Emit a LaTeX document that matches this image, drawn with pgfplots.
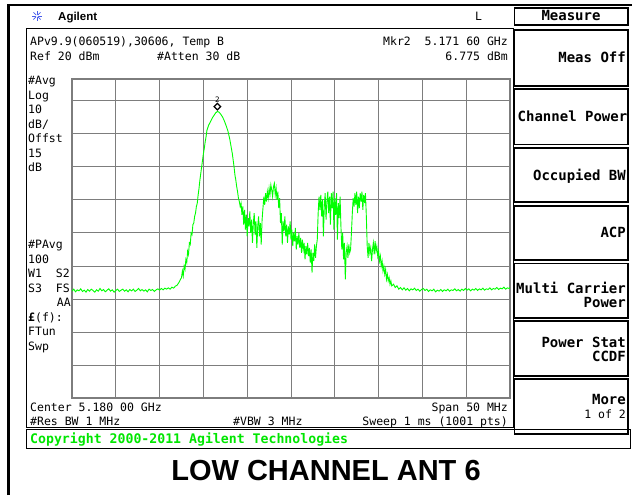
\documentclass[border=0pt]{standalone}
\usepackage{pgfplots}
\pgfplotsset{compat=1.18}
\usepackage{fontspec}
\setmainfont{Liberation Sans}
\newfontfamily\inst{DejaVu Sans Mono}
\definecolor{trace}{RGB}{0,255,0}
\definecolor{gridgray}{RGB}{125,125,125}
\definecolor{agblue}{RGB}{70,90,235}
\definecolor{copygreen}{RGB}{0,230,0}

% trace: MHz from left edge of the 50 MHz span, dBm
\pgfplotstableread{
f p
0.0 -47.6
0.2 -47.0
0.4 -47.8
0.6 -47.2
0.8 -47.5
1.0 -46.9
1.2 -47.7
1.4 -47.3
1.6 -47.9
1.8 -47.1
2.0 -47.6
2.2 -47.0
2.4 -47.4
2.6 -47.9
2.8 -47.2
3.0 -47.6
3.2 -46.8
3.4 -47.5
3.6 -47.1
3.8 -47.8
4.0 -47.3
4.2 -46.9
4.4 -47.6
4.6 -47.2
4.8 -47.9
5.0 -47.4
5.2 -47.0
5.4 -47.7
5.6 -47.3
5.8 -47.0
6.0 -47.6
6.2 -47.2
6.4 -47.8
6.6 -47.1
6.8 -47.5
7.0 -47.0
7.2 -47.7
7.4 -47.3
7.6 -46.8
7.8 -47.5
8.0 -47.1
8.2 -47.6
8.4 -47.2
8.6 -47.8
8.8 -47.0
9.0 -47.4
9.2 -47.1
9.4 -47.7
9.6 -47.2
9.8 -46.9
10.0 -47.3
10.2 -46.8
10.4 -47.2
10.6 -46.7
10.8 -47.0
11.0 -46.6
11.2 -47.0
11.4 -46.4
11.6 -46.7
11.8 -46.1
12.0 -45.8
12.2 -45.0
12.35 -44.2
12.5 -43.5
12.6 -41.5
12.7 -43.0
12.8 -40.0
12.9 -41.0
13.0 -38.0
13.1 -39.0
13.2 -35.5
13.3 -36.5
13.4 -33.0
13.5 -33.5
13.6 -30.0
13.7 -30.5
13.8 -27.5
13.9 -27.0
14.0 -25.0
14.1 -24.0
14.2 -22.0
14.3 -21.0
14.4 -18.5
14.5 -16.5
14.6 -14.0
14.7 -12.0
14.8 -10.0
14.9 -8.0
15.0 -6.0
15.1 -4.5
15.2 -2.5
15.3 -1.0
15.4 1.0
15.6 2.6
15.8 3.6
16.0 4.7
16.2 5.5
16.4 6.3
16.6 6.775
16.8 6.5
17.0 5.8
17.2 5.0
17.4 3.8
17.6 2.4
17.8 0.8
18.0 -1.5
18.1 -3.0
18.2 -4.5
18.3 -6.0
18.4 -8.0
18.5 -10.0
18.6 -12.5
18.7 -14.0
18.8 -16.0
18.9 -17.5
19.0 -19.5
19.1 -20.5
19.2 -22.0
19.3 -21.0
19.4 -24.5
19.5 -22.0
19.6 -27.5
19.7 -23.0
19.8 -29.0
19.9 -24.5
20.0 -31.0
20.1 -25.5
20.2 -28.0
20.3 -23.5
20.4 -30.0
20.5 -26.0
20.6 -33.0
20.7 -27.0
20.8 -24.0
20.9 -30.5
21.0 -26.5
21.1 -34.5
21.2 -28.0
21.3 -25.0
21.4 -31.0
21.5 -27.0
21.6 -33.5
21.7 -26.0
21.8 -22.5
21.9 -19.0
22.0 -21.5
22.1 -18.0
22.2 -20.5
22.3 -17.5
22.4 -19.5
22.5 -16.5
22.6 -18.5
22.7 -15.5
22.8 -17.0
22.9 -19.0
23.0 -16.0
23.1 -15.0
23.2 -18.5
23.3 -16.5
23.4 -20.0
23.5 -17.5
23.6 -22.5
23.7 -19.5
23.8 -27.0
23.9 -24.0
24.0 -33.5
24.1 -26.5
24.2 -29.5
24.3 -25.0
24.4 -31.0
24.5 -27.5
24.6 -33.0
24.7 -28.0
24.8 -30.5
24.9 -26.5
25.0 -32.0
25.1 -29.0
25.2 -34.0
25.3 -30.0
25.4 -32.5
25.5 -28.5
25.6 -35.0
25.7 -31.0
25.8 -33.5
25.9 -30.0
26.0 -34.5
26.1 -31.5
26.2 -36.0
26.3 -32.0
26.4 -35.0
26.5 -33.0
26.6 -38.0
26.7 -34.0
26.8 -36.5
26.9 -33.0
27.0 -37.0
27.1 -34.5
27.2 -39.0
27.3 -35.0
27.4 -42.0
27.5 -36.0
27.6 -38.5
27.7 -33.5
27.8 -37.5
27.9 -34.0
28.0 -32.0
28.1 -24.0
28.2 -19.0
28.3 -23.0
28.4 -18.5
28.5 -25.0
28.6 -20.0
28.7 -31.0
28.8 -22.0
28.9 -18.0
29.0 -26.0
29.1 -20.5
29.2 -17.5
29.3 -24.0
29.4 -19.0
29.5 -27.5
29.6 -18.0
29.7 -22.5
29.8 -17.5
29.9 -29.0
30.0 -19.5
30.1 -24.5
30.2 -18.0
30.3 -32.0
30.4 -21.0
30.5 -25.5
30.6 -19.0
30.7 -28.0
30.8 -35.0
30.9 -30.0
31.0 -38.0
31.1 -33.0
31.2 -44.0
31.3 -36.0
31.4 -34.0
31.5 -37.5
31.6 -33.5
31.7 -36.0
31.8 -35.0
31.9 -30.0
32.0 -24.0
32.1 -19.5
32.2 -22.0
32.3 -18.0
32.4 -21.5
32.5 -17.5
32.6 -24.0
32.7 -19.0
32.8 -22.5
32.9 -18.0
33.0 -20.5
33.1 -17.5
33.2 -23.0
33.3 -18.5
33.4 -21.0
33.5 -18.0
33.6 -25.0
33.7 -34.0
33.8 -37.5
33.9 -33.0
34.0 -36.0
34.1 -34.5
34.2 -38.5
34.3 -35.0
34.4 -33.0
34.5 -36.5
34.6 -32.5
34.7 -35.5
34.8 -34.0
34.9 -37.0
35.0 -35.5
35.1 -38.5
35.2 -37.0
35.3 -40.0
35.4 -38.5
35.5 -41.5
35.6 -40.0
35.7 -42.5
35.8 -41.0
35.9 -44.0
36.0 -42.5
36.1 -44.5
36.2 -43.5
36.3 -45.5
36.4 -44.5
36.5 -46.0
36.7 -45.5
36.9 -46.5
37.1 -46.0
37.3 -47.0
37.5 -46.5
37.7 -47.2
37.9 -46.6
38.1 -47.3
38.3 -46.8
38.5 -47.5
38.7 -46.9
38.9 -47.2
39.1 -46.7
39.3 -47.4
39.5 -47.0
39.7 -47.6
39.9 -47.1
40.1 -46.8
40.3 -47.4
40.5 -47.0
40.7 -47.7
40.9 -47.2
41.1 -47.5
41.3 -47.0
41.5 -47.8
41.7 -47.3
41.9 -47.6
42.1 -47.1
42.3 -47.7
42.5 -47.2
42.7 -47.5
42.9 -47.0
43.1 -47.6
43.3 -47.2
43.5 -47.4
43.7 -46.9
43.9 -47.5
44.1 -47.1
44.3 -47.6
44.5 -47.0
44.7 -47.4
44.9 -46.8
45.1 -47.3
45.3 -46.9
45.5 -47.5
45.7 -47.0
45.9 -47.3
46.1 -46.8
46.3 -47.4
46.5 -46.9
46.7 -47.2
46.9 -46.7
47.1 -47.3
47.3 -46.9
47.5 -47.1
47.7 -46.6
47.9 -47.2
48.1 -46.8
48.3 -47.0
48.5 -46.5
48.7 -47.1
48.9 -46.7
49.1 -46.9
49.3 -46.4
49.5 -47.0
49.7 -46.6
49.9 -46.8
50.0 -46.5
}\tracedata

\begin{document}
\begin{tikzpicture}
\useasboundingbox (0,0) rectangle (639pt,495pt);

\begin{axis}[
    at={(72pt,96.7pt)}, anchor=south west,
    width=438pt, height=319.3pt, scale only axis,
    xmin=0, xmax=50, ymin=-80, ymax=16.55,
    xtick={5,10,...,45}, ytick={-70,-60,...,10},
    xticklabels={}, yticklabels={},
    major tick length=0pt,
    grid=major,
    grid style={gridgray, line width=1pt},
    axis line style={gridgray, line width=1.8pt},
    clip=true,
]
    \addplot[trace, line width=0.9pt] table[x=f, y=p] {\tracedata};
    % marker 2 sits just above the peak
    \addplot[black, mark=square*, mark size=2.3pt,
        mark options={fill=white, line width=1.3pt, rotate=45}, only marks]
        coordinates {(16.6,8.2)} node[above=4pt, inner sep=0pt, font=\inst\fontsize{7.5}{8}\selectfont] {2};
\end{axis}

\begin{scope}[x=1pt, y=-1pt, shift={(0pt,495pt)}]
    % outer frame
    \draw[line width=2.5pt] (8.5,495) -- (8.5,4.8) -- (632,4.8);
    % header
    \foreach \a in {0,45,...,315} \draw[agblue, line width=0.7pt] (37,16) -- ++(\a:5);
    \fill[white] (37,16) circle (1.3);
    \node[anchor=base west, inner sep=0pt, font=\bfseries\fontsize{11.5}{12}\selectfont] at (58,21) {Agilent};
    \node[anchor=base west, inner sep=0pt, font=\inst\fontsize{11.5}{12}\selectfont] at (475,21) {L};

    % screen box and copyright bar
    \draw[line width=1pt] (26,29) rectangle (513,427);
    \draw[line width=1pt] (26,429) rectangle (630,448);
    \node[anchor=base west, inner sep=0pt, text=copygreen, font=\inst\bfseries\fontsize{13.2}{14}\selectfont] at (30,443) {Copyright 2000-2011 Agilent Technologies};

    % screen annotations
    \begin{scope}[every node/.style={inner sep=0pt, font=\inst\fontsize{11.5}{12}\selectfont}]
        \node[anchor=base west] at (30,46) {APv9.9(060519),30606, Temp B};
        \node[anchor=base east] at (508,46) {Mkr2\ \ 5.171 60 GHz};
        \node[anchor=base west] at (30,61) {Ref 20 dBm};
        \node[anchor=base west] at (157,61) {\#Atten 30 dB};
        \node[anchor=base east] at (508,61) {6.775 dBm};
        \node[anchor=base west] at (28,85) {\#Avg};
        \node[anchor=base west] at (28,99.5) {Log};
        \node[anchor=base west] at (28,114) {10};
        \node[anchor=base west] at (28,128.5) {dB/};
        \node[anchor=base west] at (28,143) {Offst};
        \node[anchor=base west] at (28,157.5) {15};
        \node[anchor=base west] at (28,172) {dB};
        \node[anchor=base west] at (28,249) {\#PAvg};
        \node[anchor=base west] at (28,263.5) {100};
        \node[anchor=base west] at (28,278) {W1\ \ S2};
        \node[anchor=base west] at (28,292.5) {S3\ \ FS};
        \node[anchor=base east] at (71,307) {AA};
        \node[anchor=base west] at (28,321.5) {{\bfseries\pounds}(f):};
        \node[anchor=base west] at (28,336) {FTun};
        \node[anchor=base west] at (28,350.5) {Swp};
        \node[anchor=base west] at (30,411) {Center 5.180 00 GHz};
        \node[anchor=base east] at (508,411) {Span 50 MHz};
        \node[anchor=base west] at (30,425) {\#Res BW 1 MHz};
        \node[anchor=base west] at (233,425) {\#VBW 3 MHz};
        \node[anchor=base east] at (508,425) {Sweep 1 ms (1001 pts)};
    \end{scope}

    % soft keys
    \begin{scope}[line width=1.6pt]
        \draw (514.5,8) rectangle (628,25);
        \foreach \t/\b in {30/86,89/144.5,148/202,206/260,263.5/318,321/376,379/434}
            \draw (514.5,\t) rectangle (628,\b);
    \end{scope}
    \begin{scope}[every node/.style={inner sep=0pt, font=\inst\bfseries\fontsize{14}{15}\selectfont}]
        \node[anchor=base] at (571,20.5) {Measure};
        \node[anchor=base east] at (626,63) {Meas Off};
        \node[anchor=base west] at (517.5,122) {Channel Power};
        \node[anchor=base east] at (626,181) {Occupied BW};
        \node[anchor=base east] at (626,238) {ACP};
        \node[anchor=base east] at (626,294) {Multi Carrier};
        \node[anchor=base east] at (626,308) {Power};
        \node[anchor=base east] at (626,348) {Power Stat};
        \node[anchor=base east] at (626,362) {CCDF};
        \node[anchor=base east] at (626,404) {More};
        \node[anchor=base east, font=\inst\fontsize{11.5}{12}\selectfont] at (626,418) {1 of 2};
    \end{scope}

    % caption
    \node[anchor=base, inner sep=0pt, font=\bfseries\fontsize{29}{30}\selectfont] at (326,480) {LOW CHANNEL ANT 6};
\end{scope}
\end{tikzpicture}
\end{document}
